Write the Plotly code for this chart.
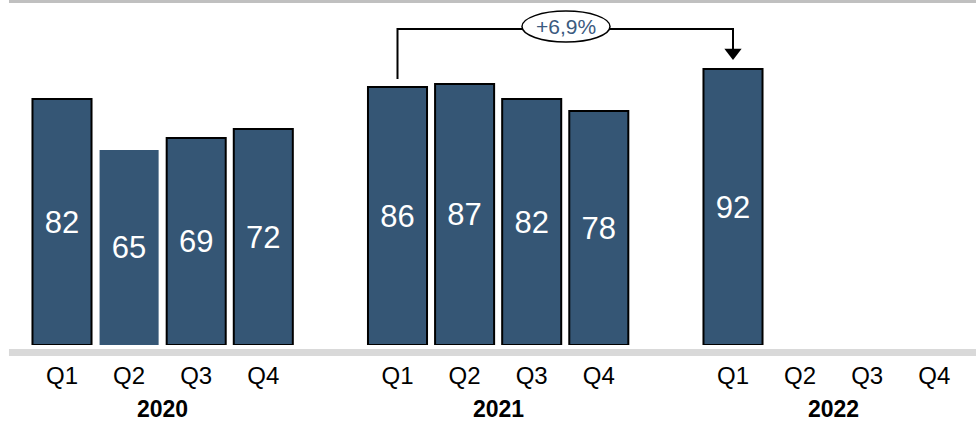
import plotly.graph_objects as go

# ---- data ----
years = ["2020", "2021", "2022"]
quarters = ["Q1", "Q2", "Q3", "Q4"]
values_2020 = [82, 65, 69, 72]
values_2021 = [86, 87, 82, 78]
values_2022 = [92, None, None, None]
outlined_2020 = [True, False, True, True]
outlined_2021 = [True, True, True, True]
outlined_2022 = [True, True, True, True]
change_label = "+6,9%"

BAR = "#355675"
FONT = "Liberation Sans, Arial, sans-serif"

series = [values_2020, values_2021, values_2022]
outlines = [outlined_2020, outlined_2021, outlined_2022]

xs, ys, lw, ticktext, tickvals = [], [], [], [], []
for gi, (vals, outl) in enumerate(zip(series, outlines)):
    for qi, q in enumerate(quarters):
        pos = gi * 5 + qi
        tickvals.append(pos)
        ticktext.append(q)
        if vals[qi] is not None:
            xs.append(pos)
            ys.append(vals[qi])
            lw.append(2 if outl[qi] else 0)

fig = go.Figure()
fig.add_trace(go.Bar(
    x=xs, y=ys, width=0.88,
    marker=dict(color=BAR, line=dict(color="black", width=lw)),
    text=[str(v) for v in ys], textposition="inside",
    insidetextanchor="middle", textangle=0,
    textfont=dict(color="white", size=31, family=FONT),
    hoverinfo="skip",
))

# bracket from 2021 Q1 to 2022 Q1
x_from, x_to = 5, 10
v_from, v_to = values_2021[0], values_2022[0]
y_top = 105.3
shapes = [
    dict(type="rect", xref="paper", yref="paper", x0=0.0092, x1=1.0,
         y0=0.9913, y1=1.0, fillcolor="#c0c0c0", line=dict(width=0), layer="below"),
    dict(type="rect", xref="paper", yref="paper", x0=0.0092, x1=1.0,
         y0=-0.0319, y1=-0.0116, fillcolor="#d9d9d9", line=dict(width=0), layer="below"),
    dict(type="path", xref="x", yref="y",
         path=f"M {x_from},{v_from + 2.7} L {x_from},{y_top} L {x_to},{y_top} L {x_to},{v_to + 5}",
         line=dict(color="black", width=2)),
    dict(type="circle", xref="x", yref="y", x0=6.855, x1=8.167, y0=101.0, y1=111.3,
         fillcolor="white", line=dict(color="black", width=1.5)),
]
fig.add_trace(go.Scatter(
    x=[x_to], y=[v_to + 5.5], mode="markers",
    marker=dict(symbol="triangle-down", size=15, color="black"),
    hoverinfo="skip",
))

annotations = [
    dict(x=(6.855 + 8.167) / 2, y=106.2, xref="x", yref="y", text=change_label,
         showarrow=False, font=dict(size=21, color="#3b5a7f", family=FONT)),
]
for gi, yr in enumerate(years):
    annotations.append(dict(x=gi * 5 + 1.5, y=-(409 - 345) / 345, xref="x", yref="paper",
                            text=f"<b>{yr}</b>", showarrow=False, yanchor="middle",
                            font=dict(size=23, color="black", family=FONT)))

fig.update_layout(
    width=976, height=422,
    margin=dict(l=0, r=0, t=0, b=77),
    paper_bgcolor="white", plot_bgcolor="white",
    showlegend=False,
    shapes=shapes, annotations=annotations,
    xaxis=dict(range=[-62 / 67.1, (976 - 62) / 67.1], tickvals=tickvals, ticktext=ticktext,
               showgrid=False, zeroline=False, showline=False, ticks="",
               ticklabelstandoff=14,
               tickfont=dict(size=24, color="black", family=FONT), fixedrange=True),
    yaxis=dict(range=[0, 115], visible=False, fixedrange=True),
    font=dict(family=FONT),
)

fig.write_html("out.html", config={"displayModeBar": False},
               post_script="document.body.style.margin='0';document.body.style.overflow='hidden';")
